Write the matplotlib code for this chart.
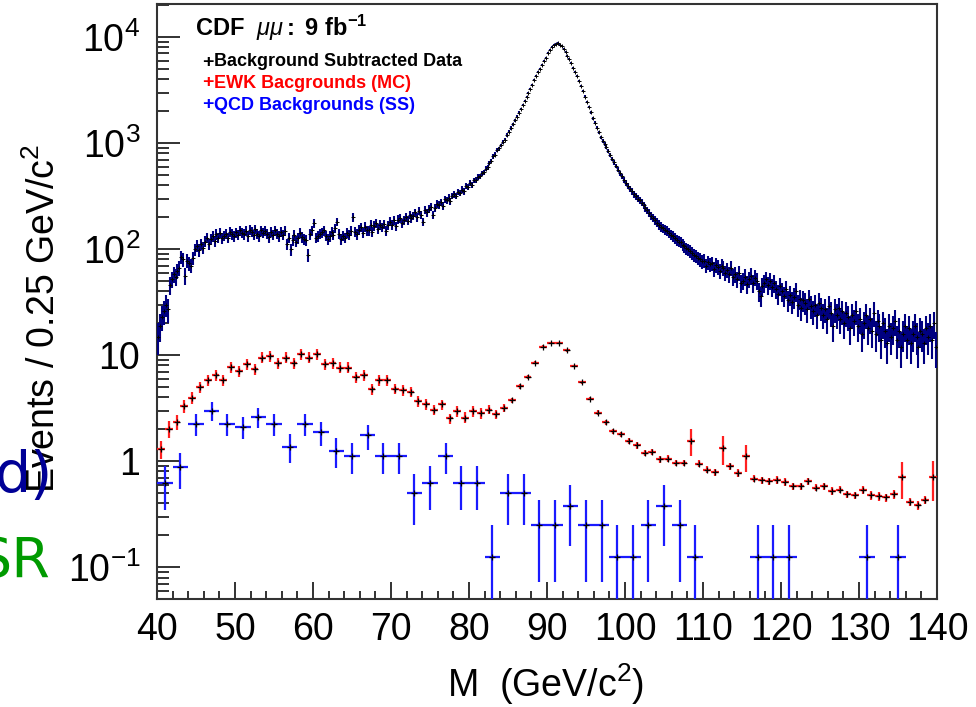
import numpy as np
import matplotlib
matplotlib.use('Agg')
import matplotlib.pyplot as plt
from matplotlib.ticker import MultipleLocator, FixedLocator, LogLocator, NullFormatter

plt.rcParams['font.family'] = ['Liberation Sans', 'DejaVu Sans']
plt.rcParams['mathtext.fontset'] = 'custom'
plt.rcParams['mathtext.rm'] = 'Liberation Sans'
plt.rcParams['mathtext.it'] = 'Liberation Sans:italic'
plt.rcParams['mathtext.bf'] = 'Liberation Sans:bold'

# ------------------------------------------------------------------------------
# data

# background subtracted data, 0.25 GeV bins from 40 to 140 (one row = 5 GeV)
data_vals = [
    15, 19, 23, 26, 30, 27, 46, 52, 58, 55, 62, 66, 84, 80, 56, 78, 74, 70, 82, 100,
    108, 98, 112, 103, 118, 128, 112, 124, 132, 120, 138, 128, 142, 126, 134, 140, 128, 146, 138, 132,
    144, 136, 150, 142, 138, 148, 132, 152, 146, 136, 154, 140, 132, 150, 142, 148, 140, 130, 146, 136,
    150, 140, 132, 146, 136, 148, 112, 128, 100, 122, 136, 118, 126, 142, 130, 124, 122, 88, 138, 150,
    176, 128, 132, 140, 144, 150, 134, 124, 132, 146, 136, 158, 181, 140, 124, 134, 128, 142, 136, 148,
    200, 145, 138, 152, 160, 142, 162, 150, 150, 170, 146, 166, 176, 155, 170, 160, 172, 148, 168, 182,
    170, 188, 165, 190, 196, 176, 188, 200, 186, 210, 196, 205, 222, 200, 230, 212, 181, 236, 222, 240,
    250, 210, 244, 268, 262, 276, 256, 295, 290, 306, 282, 318, 330, 318, 345, 338, 365, 350, 392, 388,
    418, 405, 445, 450, 478, 486, 520, 532, 575, 592, 650, 680, 750, 780, 860, 890, 950, 1030, 1080, 1190,
    1280, 1390, 1510, 1640, 1780, 1930, 2100, 2280, 2480, 2720, 2980, 3250, 3550, 3900, 4250, 4650, 5050, 5500, 5950, 6400,
    7050, 7550, 8000, 8350, 8650, 8750, 8500, 8250, 7700, 7200, 6700, 6150, 5650, 5150, 4700, 4300, 3850, 3450, 3100, 2750,
    2450, 2200, 1950, 1720, 1550, 1400, 1260, 1130, 1050, 980, 910, 840, 770, 710, 660, 610, 560, 520, 485, 450,
    420, 395, 370, 350, 330, 315, 300, 288, 275, 260, 245, 232, 220, 205, 198, 188, 178, 170, 163, 158,
    152, 148, 142, 136, 132, 126, 122, 118, 116, 110, 106, 102, 100, 96, 92, 88, 86, 82, 80, 77,
    78, 70, 75, 72, 74, 65, 71, 68, 62, 70, 66, 60, 64, 58, 66, 55, 58, 52, 60, 48,
    50, 55, 47, 52, 56, 48, 54, 50, 40, 36, 45, 48, 52, 46, 50, 44, 48, 42, 38, 45,
    40, 36, 42, 33, 37, 32, 35, 40, 30, 34, 28, 33, 31, 27, 34, 29, 26, 30, 24, 31,
    28, 24, 27, 22, 29, 25, 19, 27, 24, 28, 22, 26, 20, 25, 23, 18, 24, 21, 26, 19,
    22, 16, 20, 24, 18, 22, 17, 25, 16, 21, 19, 14, 20, 17, 13, 19, 15, 18, 21, 14,
    17, 12, 16, 19, 14, 18, 13, 16, 19, 15, 12, 17, 16, 13, 18, 15, 19, 14, 20, 12,
]

# EWK backgrounds (MC), 1 GeV bins from 40 to 140
ewk_vals = [
    1.3, 2.03, 2.35, 3.3, 3.98, 5.0, 5.8, 6.46, 5.8, 7.75,
    7.1, 8.2, 7.43, 9.5, 9.8, 8.46, 9.5, 8.46, 10.2, 9.5,
    10.2, 8.2, 8.46, 7.65, 7.65, 6.24, 6.46, 4.75, 5.8, 5.8,
    4.85, 4.68, 4.5, 3.68, 3.45, 3.07, 3.43, 2.53, 2.96, 2.58,
    2.96, 2.86, 3.07, 2.77, 3.18, 3.76, 5.1, 6.24, 8.53, 12.0,
    12.9, 12.9, 11.1, 7.9, 5.53, 3.9, 2.88, 2.32, 1.92, 1.79,
    1.56, 1.41, 1.2, 1.22, 1.04, 1.06, 0.96, 0.96, 1.56, 0.95,
    0.835, 0.79, 1.32, 0.9, 0.78, 1.11, 0.687, 0.66, 0.648, 0.67,
    0.64, 0.58, 0.58, 0.648, 0.565, 0.58, 0.525, 0.54, 0.489, 0.478,
    0.54, 0.478, 0.468, 0.455, 0.489, 0.71, 0.413, 0.385, 0.43, 0.71,
]
ewk_rel_err = [
    0.2, 0.18, 0.16, 0.14, 0.13, 0.12, 0.12, 0.12, 0.12, 0.12,
    0.12, 0.12, 0.12, 0.12, 0.12, 0.12, 0.12, 0.12, 0.12, 0.12,
    0.12, 0.12, 0.12, 0.12, 0.12, 0.12, 0.12, 0.12, 0.12, 0.12,
    0.11, 0.11, 0.11, 0.11, 0.11, 0.11, 0.11, 0.11, 0.12, 0.12,
    0.12, 0.12, 0.1, 0.1, 0.08, 0.06, 0.05, 0.04, 0.03, 0.03,
    0.02, 0.02, 0.03, 0.03, 0.04, 0.04, 0.05, 0.05, 0.05, 0.06,
    0.07, 0.07, 0.07, 0.07, 0.07, 0.07, 0.07, 0.07, 0.28, 0.08,
    0.08, 0.08, 0.3, 0.08, 0.08, 0.28, 0.08, 0.08, 0.08, 0.08,
    0.08, 0.08, 0.08, 0.08, 0.08, 0.08, 0.08, 0.08, 0.08, 0.08,
    0.09, 0.09, 0.09, 0.09, 0.09, 0.38, 0.09, 0.09, 0.09, 0.4,
]

# QCD backgrounds (same sign), events per 2 GeV bin from 40 to 140
qcd_counts = [
    5, 7, 18, 24, 18, 17, 21, 18, 11, 18,
    15, 10, 9, 14, 9, 9, 4, 5, 9, 5,
    5, 1, 4, 4, 2, 2, 3, 2, 2, 1,
    1, 2, 3, 2, 1, 0, 0, 0, 1, 1,
    1, 0, 0, 0, 0, 1, 0, 1, 0, 0,
]

ytick_vals = [0.1, 1, 10, 100, 1000, 10000]
ytick_labels = [r'$10^{-1}$', '1', '10', r'$10^{2}$', r'$10^{3}$', r'$10^{4}$']

# ------------------------------------------------------------------------------

W, H = 976, 707
fig = plt.figure(figsize=(W / 100, H / 100), dpi=100)


def fx(px):
    return px / W


def fy(py):
    return 1 - py / H


ax = fig.add_axes([fx(157), fy(599), fx(937) - fx(157), fy(4) - fy(599)])
ax.set_yscale('log')

# background subtracted data
x_data = np.arange(40.125, 140, 0.25)
y_data = np.array(data_vals, dtype=float)
e_data = 1.3 * np.sqrt(y_data)
ax.errorbar(x_data, y_data, xerr=0.125, yerr=e_data, fmt='none',
            ecolor='#000080', elinewidth=1.5, capsize=0, zorder=3)
ax.plot(x_data, y_data, ls='none', marker='+', ms=3, mew=0.7, color='black', zorder=4)

# EWK
x_ewk = np.arange(40.5, 140, 1.0)
y_ewk = np.array(ewk_vals)
e_ewk = y_ewk * np.array(ewk_rel_err)
ax.errorbar(x_ewk, y_ewk, xerr=0.5, yerr=e_ewk, fmt='none',
            ecolor='#ff2020', elinewidth=1.6, capsize=0, zorder=3)
ax.plot(x_ewk, y_ewk, ls='none', marker='+', ms=4, mew=0.9, color='black', zorder=4)

# QCD
n = np.array(qcd_counts, dtype=float)
x_qcd = np.arange(41, 140, 2.0)[n > 0]
y_qcd = n[n > 0] / 8.0
e_hi = np.sqrt(n[n > 0]) / 8.0
e_lo = np.minimum(e_hi, y_qcd - 1e-4)
ax.errorbar(x_qcd, y_qcd, xerr=1.0, yerr=[e_lo, e_hi], fmt='none',
            ecolor='#1a1aff', elinewidth=1.6, capsize=0, zorder=3)
ax.plot(x_qcd, y_qcd, ls='none', marker='+', ms=4, mew=0.9, color='black', zorder=4)

ax.set_xlim(40, 140)
ax.set_ylim(0.0502, 2.05e4)

ax.xaxis.set_major_locator(MultipleLocator(10))
ax.xaxis.set_minor_locator(MultipleLocator(2))
ax.yaxis.set_major_locator(FixedLocator(ytick_vals))
ax.set_yticklabels(ytick_labels)
ax.yaxis.set_minor_locator(LogLocator(base=10, subs=np.arange(2, 10)))
ax.yaxis.set_minor_formatter(NullFormatter())

ax.tick_params(axis='both', which='both', direction='in', color='#222222', width=1.3)
ax.tick_params(axis='x', which='major', length=12.5, labelsize=27, pad=9)
ax.tick_params(axis='x', which='minor', length=6)
ax.tick_params(axis='y', which='major', length=16.5, labelsize=27, pad=12)
ax.tick_params(axis='y', which='minor', length=8.5)
ax.tick_params(top=False, right=False, which='both')
for s in ax.spines.values():
    s.set_linewidth(1.5)
    s.set_color('#333333')

# axis titles
fig.text(fx(546), fy(684), r'M  (GeV/c$^{2}$)', fontsize=27, ha='center', va='center')
fig.text(fx(44), fy(318), r'Events / 0.25 GeV/c$^{2}$', fontsize=27, rotation=90,
         ha='center', va='center')

# CDF label and legend
fig.text(fx(195), fy(36), r'$\mathbf{CDF}\ \ \mu\mu\mathbf{:\ 9\ fb}^{\mathbf{-1}}$',
         fontsize=17, ha='left', va='baseline')
legend_rows = [('Background Subtracted Data', 'black', 62),
               ('EWK Bacgrounds (MC)', '#ff0000', 83),
               ('QCD Backgrounds (SS)', '#0000ff', 105)]
for label, col, py in legend_rows:
    fig.text(fx(214), fy(py), label, color=col, fontsize=13, fontweight='bold',
             ha='left', va='center')
    fig.text(fx(208), fy(py), '+', color=col, fontsize=14, fontweight='bold',
             ha='center', va='center')

# leftover slide text at the left edge
fig.text(fx(53), fy(492), 'd)', color='#000096', fontsize=41, family='DejaVu Sans',
         ha='right', va='baseline')
fig.text(fx(50), fy(577), 'SR', color='#009a00', fontsize=40, family='DejaVu Sans',
         ha='right', va='baseline')

fig.savefig('out.png', dpi=100)
